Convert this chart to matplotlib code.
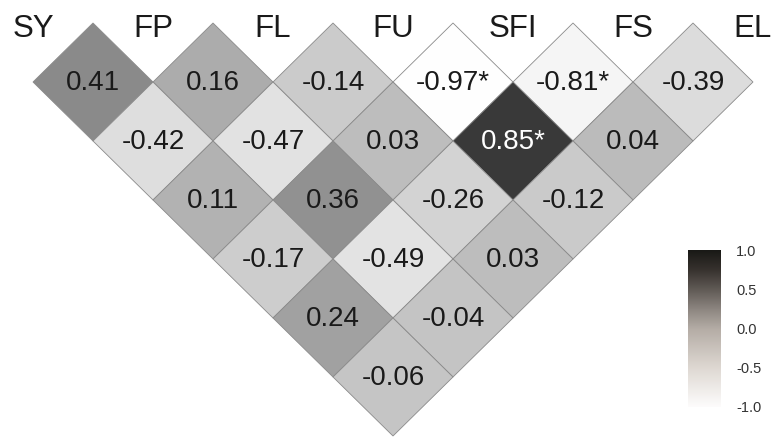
import matplotlib.pyplot as plt
import matplotlib.colors as mcolors
from matplotlib.patches import Polygon
import numpy as np

plt.rcParams['font.family'] = ['Liberation Sans', 'DejaVu Sans']
plt.rcParams['axes.unicode_minus'] = False

# variables, in order along the top
variaveis = ['SY', 'FP', 'FL', 'FU', 'SFI', 'FS', 'EL']

# correlations per offset (j - i): element n is the pair (n, n + offset)
offset1 = [0.41, 0.16, -0.14, -0.97, -0.81, -0.39]
offset2 = [-0.42, -0.47, 0.03, 0.85, 0.04]
offset3 = [0.11, 0.36, -0.26, -0.12]
offset4 = [-0.17, -0.49, 0.03]
offset5 = [0.24, -0.04]
offset6 = [-0.06]

# significant pairs (i, j)
significativos = [(3, 4), (4, 5), (3, 5)]

diagonais = [offset1, offset2, offset3, offset4, offset5, offset6]

# cells are neutral grey
cmap_celula = mcolors.LinearSegmentedColormap.from_list('cinza', [
    (0.00, '#ffffff'),
    (0.25, '#e4e4e4'),
    (0.50, '#c1c1c1'),
    (0.70, '#8c8c8c'),
    (1.00, '#1e1e1e'),
])
# the colour bar has a slightly warm tint
cmap_barra = mcolors.LinearSegmentedColormap.from_list('barra', [
    (0.000, '#fdfcfc'),
    (0.250, '#ded8d2'),
    (0.500, '#b4aca5'),
    (0.625, '#8c8580'),
    (0.750, '#605a55'),
    (0.875, '#37322e'),
    (1.000, '#191916'),
])
norm = mcolors.Normalize(vmin=-1, vmax=1)

fig = plt.figure(figsize=(7.71, 4.37), dpi=100)
ax = fig.add_axes([0, 0, 1, 1])
ax.set_xlim(-33 / 120, (771 - 33) / 120)
ax.set_ylim((437 - 23) / 118, -23 / 118)
ax.axis('off')

for k, valores in enumerate(diagonais, start=1):
    for i, v in enumerate(valores):
        j = i + k
        cx = (i + j) / 2
        cy = (j - i) / 2
        vertices = [(cx, cy - 0.5), (cx + 0.5, cy), (cx, cy + 0.5), (cx - 0.5, cy)]
        ax.add_patch(Polygon(vertices, closed=True, facecolor=cmap_celula(norm(v)),
                             edgecolor='#8a8a8a', linewidth=0.6))
        txt = f"{v:.2f}"
        if (i, j) in significativos:
            txt += '*'
        cor = 'white' if v > 0.6 else '#1a1a1a'
        ax.text(cx, cy + 0.01, txt, ha='center', va='center', fontsize=20, color=cor)

for i, nome in enumerate(variaveis):
    ax.text(i, 0.05, nome, ha='center', va='center', fontsize=22.5, color='#1a1a1a')

# colour bar
cax = fig.add_axes([688 / 771, (437 - 407) / 437, 33 / 771, 157 / 437])
grad = np.linspace(-1, 1, 256).reshape(-1, 1)
cax.imshow(grad, aspect='auto', cmap=cmap_barra, norm=norm, origin='lower',
           extent=[0, 1, -1, 1])
cax.set_xticks([])
cax.yaxis.tick_right()
ticks = [-1.0, -0.5, 0.0, 0.5, 1.0]
cax.set_yticks(ticks)
cax.set_yticklabels([f"{t:.1f}" for t in ticks], fontsize=10.5, color='#333333')
cax.tick_params(axis='y', length=0, pad=11)
for s in cax.spines.values():
    s.set_visible(False)

fig.savefig('out.png', dpi=100)
